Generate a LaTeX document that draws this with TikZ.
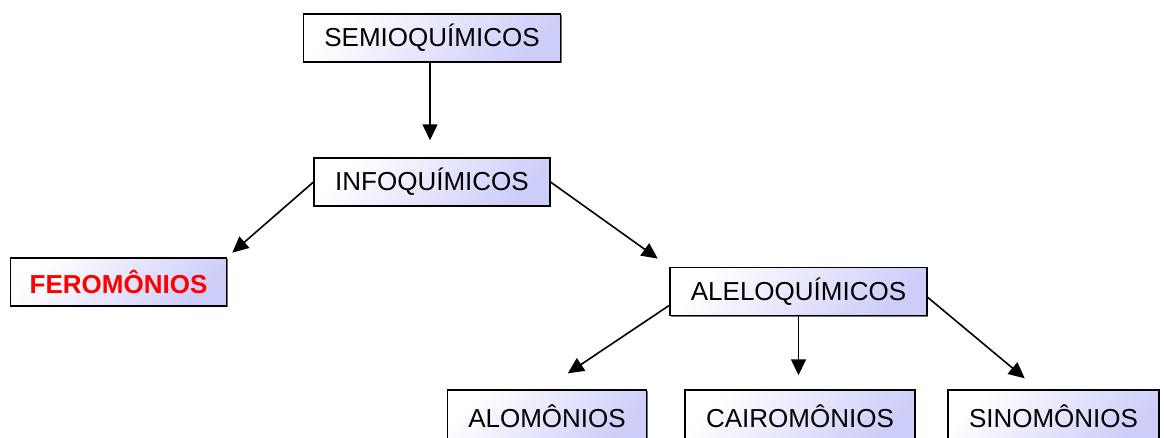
\documentclass[tikz,border=0pt]{standalone}
\usepackage{fontspec}
\setmainfont{Liberation Sans}
\usepackage{tikz}
\usetikzlibrary{arrows.meta,shadows}
\definecolor{boxlav}{RGB}{205,205,250}
\tikzstyle{box} = [draw, line width=1.5pt, shade, shading=axis, top color=white, bottom color=boxlav, shading angle=45, drop shadow={shadow xshift=1.2pt, shadow yshift=-1.2pt, opacity=0.7, fill=black!80}, inner xsep=21pt, minimum height=48pt, font=\fontsize{26}{30}\selectfont]
\tikzstyle{arrow} = [line width=1.6pt, -{Triangle[length=16pt,width=15pt]}]

\begin{document}
\begin{tikzpicture}[x=1pt,y=1pt]
\useasboundingbox (0,0) rectangle (1164,-437);

% niveis
\node[box] (semio) at (432,-38) {SEMIOQUÍMICOS};
\node[box] (info) at (432,-182) {INFOQUÍMICOS};
\node[box, text=red, font=\fontsize{26}{30}\selectfont\bfseries, inner xsep=19pt] (fero) at (118.5,-282) {FEROMÔNIOS};
\node[box] (alelo) at (798.5,-291.5) {ALELOQUÍMICOS};
\node[box, minimum height=52pt] (alom) at (547,-416) {ALOMÔNIOS};
\node[box, minimum height=52pt] (cairo) at (800,-416) {CAIROMÔNIOS};
\node[box, minimum height=52pt] (sino) at (1053.5,-416) {SINOMÔNIOS};

% setas
\draw[arrow, shorten >=17pt] ([xshift=-2pt]semio.south) -- ([xshift=-2pt]info.north);
\draw[arrow, shorten >=7pt] (info.west) -- (fero.north east);
\draw[arrow, shorten >=14pt] (info.east) -- (alelo.north west);
\draw[arrow, shorten >=25pt] ([yshift=-14pt]alelo.west) -- ([yshift=2pt]alom.north);
\draw[arrow, shorten >=12pt] (alelo.south) -- ([yshift=2pt]alelo.south |- cairo.north);
\draw[arrow, shorten >=14pt] ([yshift=-6pt]alelo.east) -- ([xshift=-18pt,yshift=2pt]sino.north);
\end{tikzpicture}
\end{document}
